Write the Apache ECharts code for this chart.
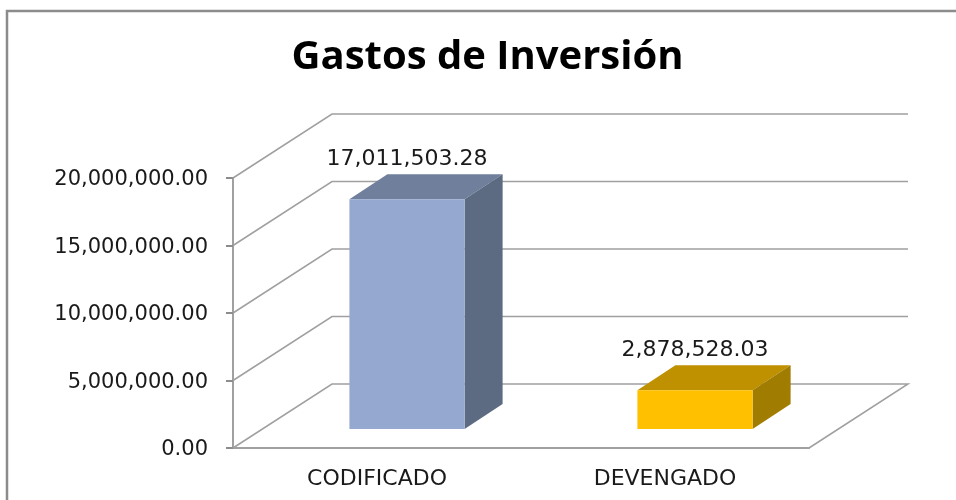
<!DOCTYPE html>
<html>
<head>
<meta charset="utf-8">
<style>html,body{margin:0;padding:0;background:#fff}#chart{width:956px;height:500px}</style>
<script src="https://cdn.jsdelivr.net/npm/echarts@6/dist/echarts.min.js"></script>
</head>
<body>
<div id="chart"></div>
<script>
var titleText = 'Gastos de Inversión';
var categories = ['CODIFICADO', 'DEVENGADO'];
var values = [17011503.28, 2878528.03];
var valueLabels = ['17,011,503.28', '2,878,528.03'];
var gridTicks = [0, 5000000, 10000000, 15000000, 20000000];
var frontColors = ['#95a9d0', '#ffc000'];
var topColors = ['#6f7f9c', '#bf9000'];
var sideColors = ['#5c6a82', '#a07c00'];

var TITLE_FONT = '"Open Sans", sans-serif';
var FONT = '"DejaVu Sans", sans-serif';
var LINE = '#a0a0a0';
var AXIS = '#8c8c8c';
// 3d offsets, px
var WALL_DX = 99, WALL_DY = 64;
var BAR_DX = 38, BAR_DY = 25;
var BAR_SHIFT_X = 30, BAR_SHIFT_Y = 19;

function renderWall(params, api) {
  var cs = params.coordSys;
  var y = api.coord([0, api.value(0)])[1];
  var x0 = cs.x, x1 = cs.x + cs.width;
  var pts = [[x0, y], [x0 + WALL_DX, y - WALL_DY], [x1 + WALL_DX, y - WALL_DY]];
  if (api.value(0) === 0) {
    pts.push([x1, y]);
  }
  return {
    type: 'polyline',
    shape: { points: pts },
    style: { stroke: LINE, lineWidth: 1.5, fill: null }
  };
}

function renderBar(params, api) {
  var i = api.value(0);
  var c = api.coord([i, api.value(1)]);
  var base = api.coord([i, 0]);
  var w = api.size([1, 0])[0] * 0.4;
  var l = c[0] - w / 2 + BAR_SHIFT_X, r = l + w;
  var t = c[1] - BAR_SHIFT_Y, b = base[1] - BAR_SHIFT_Y;
  return {
    type: 'group',
    children: [
      { type: 'polygon', shape: { points: [[l, t], [l + BAR_DX, t - BAR_DY], [r + BAR_DX, t - BAR_DY], [r, t]] }, style: { fill: topColors[i] } },
      { type: 'polygon', shape: { points: [[r, t], [r + BAR_DX, t - BAR_DY], [r + BAR_DX, b - BAR_DY], [r, b]] }, style: { fill: sideColors[i] } },
      { type: 'rect', shape: { x: l, y: t, width: w, height: b - t }, style: { fill: frontColors[i] } },
      { type: 'text', style: { text: valueLabels[i], x: (l + r) / 2, y: t - BAR_DY - 15, align: 'center', verticalAlign: 'middle', font: '22px ' + FONT, fill: '#1a1a1a' } }
    ]
  };
}

var chart = echarts.init(document.getElementById('chart'), null, { renderer: 'canvas' });
chart.setOption({
  animation: false,
  backgroundColor: '#fff',
  title: {
    text: titleText,
    left: 482.5,
    top: 33,
    textAlign: 'center',
    textStyle: { fontFamily: TITLE_FONT, fontSize: 40, fontWeight: 'bold', color: '#000' }
  },
  graphic: [
    { type: 'polyline', shape: { points: [[7, 500], [7, 11], [956, 11]] }, style: { stroke: AXIS, lineWidth: 2.5, fill: null } }
  ],
  grid: { left: 233, right: 147, top: 178, bottom: 52 },
  xAxis: {
    type: 'category',
    data: categories,
    axisLine: { lineStyle: { color: LINE, width: 2 } },
    axisTick: { length: 7, lineStyle: { color: AXIS, width: 2 } },
    axisLabel: { fontFamily: FONT, fontSize: 22, color: '#1a1a1a', margin: 20 }
  },
  yAxis: {
    type: 'value',
    min: 0,
    max: 20000000,
    interval: 5000000,
    axisLine: { show: true, lineStyle: { color: LINE, width: 2 } },
    axisTick: { show: true, length: 7, lineStyle: { color: AXIS, width: 2 } },
    splitLine: { show: false },
    axisLabel: {
      margin: 25,
      formatter: function (v) {
        return '{a|' + v.toLocaleString('en-US', { minimumFractionDigits: 2, maximumFractionDigits: 2 }) + '}';
      },
      rich: {
        a: { fontFamily: FONT, fontSize: 21, color: '#1a1a1a', padding: [4, 0, 0, 0] }
      }
    }
  },
  series: [
    {
      type: 'custom',
      renderItem: renderWall,
      clip: false,
      z: 1,
      encode: { y: 0 },
      data: gridTicks.map(function (v) { return [v]; })
    },
    {
      type: 'custom',
      renderItem: renderBar,
      clip: false,
      z: 2,
      encode: { x: 0, y: 1 },
      data: values.map(function (v, i) { return [i, v]; })
    }
  ]
});
</script>
</body>
</html>
